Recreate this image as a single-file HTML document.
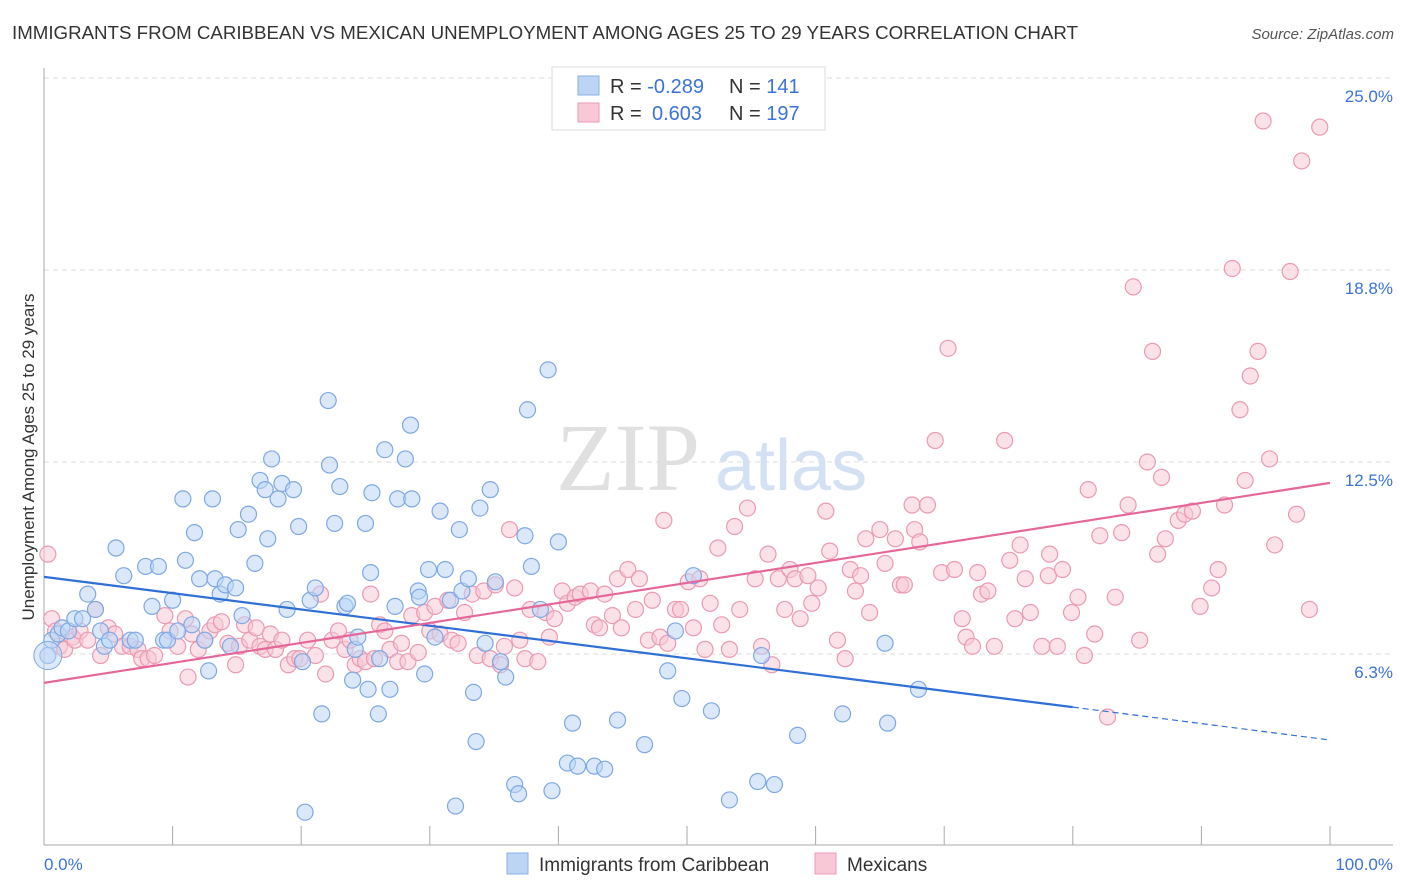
<!DOCTYPE html>
<html><head><meta charset="utf-8">
<style>
body{margin:0;background:#fff;width:1406px;height:892px;overflow:hidden;font-family:"Liberation Sans",sans-serif}
svg{position:absolute;left:0;top:0}
</style></head>
<body>
<svg id="chart" width="1406" height="892">
<text x="12" y="39" font-size="18" fill="#333" textLength="1066" lengthAdjust="spacingAndGlyphs">IMMIGRANTS FROM CARIBBEAN VS MEXICAN UNEMPLOYMENT AMONG AGES 25 TO 29 YEARS CORRELATION CHART</text>
<text x="1394" y="39" font-size="15" fill="#555" font-style="italic" text-anchor="end">Source: ZipAtlas.com</text>
<text x="700" y="490" font-size="96" fill="#ccc" opacity="0.6" text-anchor="end" font-family="Liberation Serif">ZIP</text>
<text x="715" y="490" font-size="72" fill="#a9c4e8" opacity="0.5">atlas</text>
<g id="grid"></g><g id="axes"></g><g id="pts"></g><g id="trend"></g>
<text transform="translate(34,457) rotate(-90)" font-size="17" fill="#333" text-anchor="middle">Unemployment Among Ages 25 to 29 years</text>
<g>
<rect x="552" y="67" width="273" height="63" fill="#fff" stroke="#ddd"/>
<rect x="578" y="76" width="21" height="19" fill="#bcd5f5" stroke="#8ab0e6"/>
<rect x="578" y="103" width="21" height="19" fill="#f8c8d6" stroke="#eb9ab3"/>
<text x="610" y="93" font-size="20" fill="#333">R = <tspan fill="#3b73d6">-0.289</tspan><tspan x="729">N = </tspan><tspan fill="#3b73d6">141</tspan></text>
<text x="610" y="120" font-size="20" fill="#333">R = <tspan x="652" fill="#3b73d6">0.603</tspan><tspan x="729">N = </tspan><tspan fill="#3b73d6">197</tspan></text>
</g>
<g>
<rect x="507" y="853" width="21" height="21" fill="#bcd5f5" stroke="#8ab0e6"/>
<text x="539" y="871" font-size="19" fill="#333">Immigrants from Caribbean</text>
<rect x="815" y="853" width="21" height="21" fill="#f8c8d6" stroke="#eb9ab3"/>
<text x="847" y="871" font-size="19" fill="#333">Mexicans</text>
</g>
</svg>
<script>
const yTicks=[6.3,12.5,18.8,25.0];
const yTickVals=[6.25,12.5,18.75,25];
const xTickLabels=["0.0%","100.0%"];
const blueX=[0.3,0.6,1.1,1.4,1.9,2.4,3.0,3.4,4.0,4.4,4.7,5.1,5.6,6.2,6.7,7.1,7.9,8.4,8.9,9.3,9.6,10.0,10.4,10.8,11.0,11.5,11.7,12.1,12.5,12.8,13.1,13.3,13.7,14.1,14.5,14.9,15.1,15.4,15.9,16.4,16.8,17.2,17.4,17.7,18.2,18.5,18.9,19.4,19.8,20.1,20.3,20.7,21.1,21.6,22.1,22.2,22.6,23.0,23.4,23.6,24.0,24.2,24.4,25.0,25.2,25.4,25.5,26.0,26.1,26.5,26.9,27.3,27.5,28.1,28.5,28.6,29.1,29.2,29.6,29.9,30.4,30.8,31.2,31.6,32.0,32.3,32.5,33.0,33.4,33.6,33.9,34.3,34.7,35.1,35.5,35.9,36.6,36.9,37.4,37.6,37.9,38.6,39.2,39.5,40.0,40.7,41.1,41.5,42.8,43.6,44.6,46.7,48.5,49.1,49.6,50.5,51.9,53.3,55.5,55.8,56.8,58.6,62.1,65.4,65.6,68.0];
const blueY=[6.2,6.7,6.9,7.1,7.0,7.4,7.4,8.2,7.7,7.0,6.5,6.7,9.7,8.8,6.7,6.7,9.1,7.8,9.1,6.7,6.7,8.0,7.0,11.3,9.3,7.2,10.2,8.7,6.7,5.7,11.3,8.7,8.2,8.5,6.5,8.4,10.3,7.5,10.8,9.2,11.9,11.6,10.0,12.6,11.3,11.8,7.7,11.6,10.4,6.0,1.1,8.0,8.4,4.3,14.5,12.4,10.5,11.7,7.8,7.9,5.4,6.4,6.8,10.5,5.1,8.9,11.5,4.3,6.1,12.9,5.1,7.8,11.3,12.6,13.7,11.3,8.3,8.1,5.6,9.0,6.8,10.9,9.0,8.0,1.3,10.3,8.3,8.7,5.0,3.4,11.0,6.6,11.6,8.6,6.0,5.5,2.0,1.7,10.1,14.2,9.1,7.7,15.5,1.8,9.9,2.7,4.0,2.6,2.6,2.5,4.1,3.3,5.7,7.0,4.8,8.8,4.4,1.5,2.1,6.2,2.0,3.6,4.3,6.6,4.0,5.1];
const pinkX=[0.3,0.6,0.9,1.2,1.6,2.2,2.4,2.8,3.4,4.0,4.4,5.0,5.5,6.1,6.7,7.3,7.6,8.1,8.6,9.4,9.8,10.4,11.0,11.2,11.5,12.0,12.5,12.9,13.3,13.8,14.3,14.9,15.2,15.6,16.0,16.5,16.8,17.2,17.6,18.0,18.5,19.0,19.5,19.9,20.5,21.1,21.5,21.9,22.4,22.9,23.4,23.8,24.2,24.6,25.0,25.4,25.7,26.1,26.5,26.9,27.5,27.8,28.3,28.6,29.1,29.6,30.0,30.4,30.8,31.4,31.7,32.2,32.7,33.3,33.7,34.2,34.7,35.1,35.5,35.8,36.2,36.6,37.0,37.4,37.8,38.4,39.0,39.3,39.7,40.3,40.7,41.3,41.7,42.5,42.8,43.2,43.6,44.2,44.6,44.9,45.4,46.0,46.3,47.0,47.3,47.9,48.2,48.5,49.1,49.5,50.1,50.5,51.0,51.4,51.8,52.4,52.7,53.3,53.7,54.1,54.7,55.3,55.8,56.3,56.6,57.1,57.6,58.0,58.4,58.8,59.4,59.7,60.2,60.8,61.1,61.7,62.3,62.7,63.1,63.5,63.9,64.2,65.0,65.4,66.2,66.6,66.9,67.5,67.7,68.1,68.7,69.3,69.8,70.3,70.8,71.4,71.7,72.2,72.6,72.9,73.4,73.9,74.7,75.1,75.5,75.9,76.3,76.7,77.6,78.1,78.2,78.8,79.2,79.9,80.4,80.9,81.2,81.7,82.1,82.7,83.3,83.8,84.3,84.7,85.2,85.8,86.2,86.6,86.9,87.2,88.2,88.7,89.3,89.9,90.8,91.3,91.8,92.4,93.0,93.4,93.8,94.4,94.8,95.3,95.7,96.9,97.4,97.8,98.4,99.2];
const pinkY=[9.5,7.4,7.0,6.5,6.4,6.8,6.7,7.0,6.7,7.7,6.2,7.1,6.9,6.5,6.5,6.4,6.1,6.1,6.2,7.5,7.0,6.5,7.4,5.5,6.9,6.4,6.7,7.0,7.2,7.3,6.6,5.9,6.5,7.2,6.7,7.1,6.5,6.4,6.9,6.4,6.7,5.9,6.1,6.1,6.7,6.2,8.2,5.6,6.7,7.0,6.4,6.7,5.9,6.1,6.0,8.2,6.1,7.2,7.0,6.4,6.0,6.6,6.0,7.5,6.3,7.6,7.0,7.8,6.9,8.0,6.7,6.6,7.6,8.2,6.2,8.3,6.1,8.5,5.9,6.5,10.3,8.4,6.7,6.1,7.7,6.0,7.6,6.8,7.4,8.3,7.9,8.1,8.2,8.3,7.2,7.1,8.2,7.5,8.7,7.1,9.0,7.7,8.7,6.7,8.0,6.8,10.6,6.6,7.7,7.7,8.6,7.1,8.7,6.4,7.9,9.7,7.2,6.4,10.4,7.7,11.0,8.7,6.5,9.5,5.9,8.7,7.7,9.0,8.7,7.4,8.8,7.9,8.4,10.9,9.6,6.7,6.1,9.0,8.3,8.8,10.0,7.6,10.3,9.2,10.0,8.5,8.5,11.1,10.3,9.9,11.1,13.2,8.9,16.2,9.0,7.4,6.8,6.5,8.9,8.2,8.3,6.5,13.2,9.3,7.4,9.8,8.7,7.6,6.5,8.8,9.5,6.5,9.0,7.6,8.1,6.2,11.6,6.9,10.1,4.2,8.1,10.2,11.1,18.2,6.7,12.5,16.1,9.5,12.0,10.0,10.6,10.8,10.9,7.8,8.4,9.0,11.1,18.8,14.2,11.9,15.3,16.1,23.6,12.6,9.8,18.7,10.8,22.3,7.7,23.4];
const blueTrendX=[0,80,100];
const blueTrendY=[8.76,4.52,3.45];
const pinkTrendX=[0,100];
const pinkTrendY=[5.31,11.82];

const NS="http://www.w3.org/2000/svg";
const X0=44,X1=1330,YB=654,YPER=30.72;
function sx(v){return X0+(X1-X0)*v/100;}
function sy(v){return YB-(v-6.25)*YPER;}
function mk(tag,attrs,parent){const e=document.createElementNS(NS,tag);for(const k in attrs)e.setAttribute(k,attrs[k]);parent.appendChild(e);return e;}
const grid=document.getElementById('grid'),axes=document.getElementById('axes'),pts=document.getElementById('pts'),tr=document.getElementById('trend');
yTickVals.forEach((v,i)=>{
  const l=mk('line',{x1:X0,x2:1393,y1:sy(v),y2:sy(v),stroke:'#ddd','stroke-dasharray':'5,4'},grid);
  
  
  const t=mk('text',{x:1393,y:sy(v)+24,'font-size':17,fill:'#3b73d6','text-anchor':'end'},grid);
  t.textContent=yTicks[i].toFixed(1)+'%';
  
  
});
const ax=mk('line',{x1:X0,x2:1393,y1:845,y2:845,stroke:'#aaa'},axes);


const ay=mk('line',{x1:X0,x2:X0,y1:68,y2:845,stroke:'#aaa'},axes);


for(let i=1;i<=10;i++){
  const t=mk('line',{x1:sx(i*10),x2:sx(i*10),y1:826,y2:845,stroke:'#aaa'},axes);
  
  
}
const xl0=mk('text',{x:44,y:870,'font-size':17,fill:'#3b73d6'},axes);
xl0.textContent=xTickLabels[0];


const xl1=mk('text',{x:1393,y:870,'font-size':17,fill:'#3b73d6','text-anchor':'end'},axes);
xl1.textContent=xTickLabels[1];


function drawPts(xs,ys,fill,stroke,name){
  xs.forEach((x,i)=>{
    const c=mk('circle',{cx:sx(x),cy:sy(ys[i]),r:8,fill:fill,'fill-opacity':0.55,stroke:stroke,'stroke-width':1.2},pts);
    
    
  });
}
drawPts(pinkX,pinkY,'#f8c8d6','#eb9ab3','mexicans-point');
drawPts(blueX,blueY,'#bcd5f5','#7fa8e3','caribbean-point');
const big=mk('circle',{cx:sx(blueX[0]),cy:sy(blueY[0]),r:14,fill:'#bcd5f5','fill-opacity':0.5,stroke:'#7fa8e3'},pts);


const b1=mk('line',{x1:sx(blueTrendX[0]),y1:sy(blueTrendY[0]),x2:sx(blueTrendX[1]),y2:sy(blueTrendY[1]),stroke:'#2f6fd6','stroke-width':2.2},tr);


const b2=mk('line',{x1:sx(blueTrendX[1]),y1:sy(blueTrendY[1]),x2:sx(blueTrendX[2]),y2:sy(blueTrendY[2]),stroke:'#2f6fd6','stroke-width':1.2,'stroke-dasharray':'6,4'},tr);


const p1=mk('line',{x1:sx(pinkTrendX[0]),y1:sy(pinkTrendY[0]),x2:sx(pinkTrendX[1]),y2:sy(pinkTrendY[1]),stroke:'#e5679a','stroke-width':2.2},tr);


</script>
</body></html>
